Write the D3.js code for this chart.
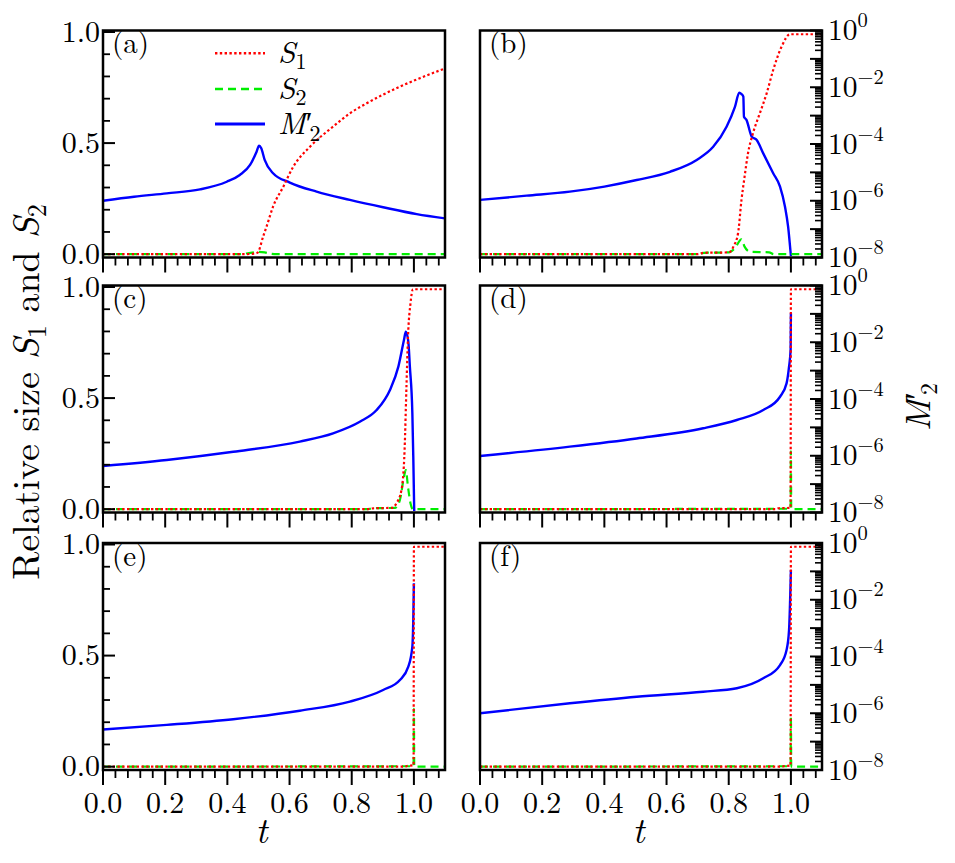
<!DOCTYPE html>
<html><head><meta charset="utf-8">
<script src="https://cdn.jsdelivr.net/npm/d3@7"></script>
<style>
body{margin:0;background:#fff}
svg{display:block}
</style>
</head><body>
<svg id="chart" width="955" height="863"></svg>
<script>
// ---------- axis ticks / labels ----------
const xMajorTicks = [0, 0.2, 0.4, 0.6, 0.8, 1.0];
const xTickLabels = ["0.0", "0.2", "0.4", "0.6", "0.8", "1.0"];
const yMajorTicks = [0, 0.5, 1.0];
const yTickLabels = ["0.0", "0.5", "1.0"];
const logLabelExps = [0, -2, -4, -6, -8];
const panelLabels = ["(a)", "(b)", "(c)", "(d)", "(e)", "(f)"];

// ---------- panel (a) ----------
const tS1_a = [0, 0.45, 0.49, 0.498, 0.515, 0.526, 0.547, 0.58, 0.612, 0.666, 0.74, 0.794, 0.848, 0.955, 1.019, 1.1];
const S1_a  = [0, 0, 0.003, 0.008, 0.079, 0.124, 0.214, 0.304, 0.394, 0.484, 0.574, 0.634, 0.679, 0.754, 0.792, 0.836];
const tS2_a = [0, 0.44, 0.47, 0.5, 0.52, 0.54, 0.56, 1.1];
const S2_a  = [0, 0, 0.005, 0.01, 0.008, 0.002, 0, 0];
const tM_a  = [0, 0.1, 0.205, 0.312, 0.398, 0.44, 0.473, 0.494, 0.502, 0.509, 0.52, 0.547, 0.601, 0.687, 0.794, 0.901, 1.009, 1.1];
const M_a   = [1.0e-6, 1.38e-6, 1.82e-6, 2.51e-6, 4.68e-6, 8.13e-6, 1.82e-5, 5.37e-5, 8.71e-5, 7.08e-5, 2.75e-5, 9.33e-6, 4.37e-6, 2.09e-6, 1.07e-6, 5.89e-7, 3.39e-7, 2.40e-7];

// ---------- panel (b) ----------
const tS1_b = [0, 0.7, 0.72, 0.8, 0.81, 0.815, 0.83, 0.841, 0.851, 0.862, 0.878, 0.9, 0.922, 0.943, 0.97, 0.997, 1.1];
const S1_b  = [0, 0, 0.006, 0.008, 0.02, 0.034, 0.094, 0.244, 0.349, 0.454, 0.544, 0.634, 0.724, 0.829, 0.934, 0.99, 0.99];
const tS2_b = [0, 0.7, 0.72, 0.8, 0.82, 0.841, 0.851, 0.868, 0.93, 0.945, 1.1];
const S2_b  = [0, 0, 0.006, 0.008, 0.027, 0.067, 0.034, 0.011, 0.008, 0, 0];
const tM_b  = [0, 0.15, 0.289, 0.4, 0.504, 0.611, 0.697, 0.75, 0.793, 0.82, 0.834, 0.841, 0.847, 0.849, 0.857, 0.874, 0.89, 0.911, 0.943, 0.965, 0.981, 0.991, 1.0];
const M_b   = [1.07e-6, 1.51e-6, 2.09e-6, 3.16e-6, 5.37e-6, 1.05e-5, 2.75e-5, 7.94e-5, 4.07e-4, 2.04e-3, 6.46e-3, 5.75e-3, 4.68e-3, 9.12e-4, 7.08e-4, 1.82e-4, 1.38e-4, 4.68e-5, 9.33e-6, 3.16e-6, 6.17e-7, 1.23e-7, 1.12e-8];

// ---------- panel (c) ----------
const tS1_c = [0, 0.85, 0.87, 0.93, 0.944, 0.96, 0.97, 0.976, 0.981, 0.989, 0.997, 1.1];
const S1_c  = [0, 0, 0.004, 0.006, 0.027, 0.086, 0.266, 0.551, 0.776, 0.926, 0.99, 0.99];
const tS2_c = [0, 0.85, 0.87, 0.94, 0.955, 0.968, 0.974, 0.981, 0.989, 0.997, 1.1];
const S2_c  = [0, 0, 0.004, 0.006, 0.041, 0.146, 0.176, 0.10, 0.027, 0, 0];
const tM_c  = [0, 0.205, 0.419, 0.633, 0.74, 0.826, 0.88, 0.923, 0.95, 0.968, 0.974, 0.982, 0.987, 0.995, 0.998, 1.001];
const M_c   = [4.37e-7, 7.08e-7, 1.38e-6, 3.16e-6, 6.17e-6, 1.58e-5, 4.07e-5, 2.09e-4, 1.38e-3, 1.20e-2, 2.34e-2, 1.05e-2, 1.38e-3, 3.16e-5, 9.33e-7, 1.12e-8];

// ---------- panel (d) ----------
const tS1_d = [0, 0.95, 0.96, 0.999, 1.0, 1.1];
const S1_d  = [0, 0, 0.004, 0.006, 0.99, 0.99];
const tS2_d = [0, 0.999, 1.0, 1.001, 1.1];
const S2_d  = [0, 0.002, 0.26, 0, 0];
const tM_d  = [0, 0.289, 0.504, 0.718, 0.826, 0.911, 0.965, 0.986, 0.994, 0.999, 1.0];
const M_d   = [9.77e-7, 2.09e-6, 4.07e-6, 9.33e-6, 1.82e-5, 4.07e-5, 1.20e-4, 3.55e-4, 1.38e-3, 5.37e-3, 1.05e-1];

// ---------- panel (e) ----------
const tS1_e = [0, 0.97, 0.98, 0.999, 1.0, 1.1];
const S1_e  = [0, 0, 0.004, 0.006, 0.99, 0.99];
const tS2_e = [0, 0.999, 1.0, 1.001, 1.1];
const S2_e  = [0, 0.002, 0.26, 0, 0];
const tM_e  = [0, 0.205, 0.419, 0.633, 0.794, 0.901, 0.955, 0.982, 0.995, 0.998, 1.0];
const M_e   = [2.69e-7, 3.89e-7, 6.17e-7, 1.23e-6, 2.57e-6, 6.61e-6, 1.48e-5, 4.37e-5, 2.24e-4, 1.95e-3, 3.80e-2];

// ---------- panel (f) ----------
const tS1_f = [0, 0.97, 0.98, 0.999, 1.0, 1.1];
const S1_f  = [0, 0, 0.003, 0.005, 0.99, 0.99];
const tS2_f = [0, 0.999, 1.0, 1.001, 1.1];
const S2_f  = [0, 0.002, 0.225, 0, 0];
const tM_f  = [0, 0.289, 0.504, 0.718, 0.826, 0.911, 0.965, 0.986, 0.994, 1.0];
const M_f   = [1.0e-6, 2.24e-6, 3.80e-6, 5.75e-6, 7.59e-6, 1.70e-5, 5.01e-5, 1.70e-4, 8.51e-4, 1.12e-1];

// ---------- layout ----------
const FONT = "'Latin Modern Roman', 'Liberation Serif', serif";
const svg = d3.select("#chart");
const colX = [103, 480];
const rowY = [30.5, 285.5, 543];
const W = 342, H = 227;

const zip = (ts, vs) => ts.map((t, i) => [t, vs[i]]);
const panels = [
  {S1: zip(tS1_a, S1_a), S2: zip(tS2_a, S2_a), M: zip(tM_a, M_a)},
  {S1: zip(tS1_b, S1_b), S2: zip(tS2_b, S2_b), M: zip(tM_b, M_b)},
  {S1: zip(tS1_c, S1_c), S2: zip(tS2_c, S2_c), M: zip(tM_c, M_c)},
  {S1: zip(tS1_d, S1_d), S2: zip(tS2_d, S2_d), M: zip(tM_d, M_d)},
  {S1: zip(tS1_e, S1_e), S2: zip(tS2_e, S2_e), M: zip(tM_e, M_e)},
  {S1: zip(tS1_f, S1_f), S2: zip(tS2_f, S2_f), M: zip(tM_f, M_f)}
];

const x = d3.scaleLinear().domain([0, 1.1]).range([0, W]);
const yLin = d3.scaleLinear().domain([-0.015, 1.0068]).range([H, 0]);
const yLog = d3.scaleLog().domain([1e-8, 1]).range([H, 0]);

const styles = {
  S1: {color: "#ff0000", dash: "2.4,2.4", width: 2.2},
  S2: {color: "#00ee00", dash: "8,5", width: 2.2},
  M:  {color: "#0000ff", dash: null, width: 2.4}
};

const txt = (sel) => sel.append("text").attr("font-family", FONT).attr("fill", "#000");

const xMinor = d3.range(0, 1.1001, 0.04).filter(v => !xMajorTicks.some(m => Math.abs(m - v) < 1e-6));
const yMinor = d3.range(0, 1.0001, 0.1).filter(v => !yMajorTicks.some(m => Math.abs(m - v) < 1e-6));
const logMajor = d3.range(-8, 1).map(e => Math.pow(10, e));
const logMinor = [];
for (let e = -8; e < 0; e++) for (let k = 2; k <= 9; k++) logMinor.push(k * Math.pow(10, e));

panels.forEach((p, i) => {
  const col = i % 2, row = Math.floor(i / 2);
  const g = svg.append("g").attr("transform", `translate(${colX[col]},${rowY[row]})`);
  const cid = "clip" + i;
  g.append("clipPath").attr("id", cid).append("rect").attr("width", W).attr("height", H);
  const plot = g.append("g").attr("clip-path", `url(#${cid})`);

  const lineLin = d3.line().x(d => x(d[0])).y(d => yLin(d[1])).curve(d3.curveMonotoneX);
  const lineLog = d3.line().x(d => x(d[0])).y(d => yLog(d[1])).curve(d3.curveMonotoneX);

  plot.append("path").datum(p.M).attr("d", lineLog)
    .attr("fill", "none").attr("stroke", styles.M.color).attr("stroke-width", styles.M.width)
    .attr("stroke-linejoin", "round");
  plot.append("path").datum(p.S2).attr("d", lineLin)
    .attr("fill", "none").attr("stroke", styles.S2.color).attr("stroke-width", styles.S2.width)
    .attr("stroke-dasharray", styles.S2.dash);
  plot.append("path").datum(p.S1).attr("d", lineLin)
    .attr("fill", "none").attr("stroke", styles.S1.color).attr("stroke-width", styles.S1.width)
    .attr("stroke-dasharray", styles.S1.dash);

  // bottom axis: outward ticks
  const xa = g.append("g").attr("transform", `translate(0,${H})`);
  xa.selectAll("line.maj").data(xMajorTicks).join("line")
    .attr("x1", d => x(d)).attr("x2", d => x(d)).attr("y1", 0).attr("y2", 15)
    .attr("stroke", "#000").attr("stroke-width", 2);
  xa.selectAll("line.min").data(xMinor).join("line")
    .attr("x1", d => x(d)).attr("x2", d => x(d)).attr("y1", 0).attr("y2", 8)
    .attr("stroke", "#000").attr("stroke-width", 1.8);
  if (row === 2) {
    xMajorTicks.forEach((d, j) => {
      txt(xa).attr("x", x(d)).attr("y", 43).attr("text-anchor", "middle")
        .attr("font-size", 30).text(xTickLabels[j]);
    });
    txt(g).attr("x", x(0.51)).attr("y", H + 73).attr("text-anchor", "middle")
      .attr("font-size", 36).attr("font-style", "italic").text("t");
  }

  if (col === 0) {
    g.selectAll("line.ymaj").data(yMajorTicks).join("line")
      .attr("x1", 0).attr("x2", 12).attr("y1", d => yLin(d)).attr("y2", d => yLin(d))
      .attr("stroke", "#000").attr("stroke-width", 2);
    g.selectAll("line.ymin").data(yMinor).join("line")
      .attr("x1", 0).attr("x2", 7).attr("y1", d => yLin(d)).attr("y2", d => yLin(d))
      .attr("stroke", "#000").attr("stroke-width", 1.8);
    yMajorTicks.forEach((d, j) => {
      txt(g).attr("x", -3).attr("y", yLin(d) + 9.7).attr("text-anchor", "end")
        .attr("font-size", 30).text(yTickLabels[j]);
    });
  } else {
    g.selectAll("line.lmaj").data(logMajor).join("line")
      .attr("x1", W - 12).attr("x2", W).attr("y1", d => yLog(d)).attr("y2", d => yLog(d))
      .attr("stroke", "#000").attr("stroke-width", 2);
    g.selectAll("line.lmin").data(logMinor).join("line")
      .attr("x1", W - 7).attr("x2", W).attr("y1", d => yLog(d)).attr("y2", d => yLog(d))
      .attr("stroke", "#000").attr("stroke-width", 1.6);
    logLabelExps.forEach(e => {
      const t = txt(g).attr("x", W + 6).attr("y", yLog(Math.pow(10, e)) + 9.5)
        .attr("font-size", 29.5);
      t.append("tspan").text("10");
      t.append("tspan").attr("dy", -13).attr("font-size", 20.5)
        .text(e === 0 ? "0" : "\u2212" + Math.abs(e));
    });
  }

  g.append("rect").attr("width", W).attr("height", H)
    .attr("fill", "none").attr("stroke", "#000").attr("stroke-width", 2.5);

  txt(g).attr("x", 9).attr("y", 22.5).attr("font-size", 29).text(panelLabels[i]);

  if (i === 0) {
    const legY = [22.8, 58.5, 93.5];
    const keys = ["S1", "S2", "M"];
    keys.forEach((k, j) => {
      const st = styles[k];
      g.append("line").attr("x1", 112).attr("x2", 162).attr("y1", legY[j]).attr("y2", legY[j])
        .attr("stroke", st.color).attr("stroke-width", k === "M" ? 3 : 2.6)
        .attr("stroke-dasharray", st.dash);
      const tx = txt(g).attr("x", 175).attr("y", legY[j] + 10).attr("font-size", 31);
      if (k === "M") {
        tx.append("tspan").attr("font-style", "italic").text("M");
        tx.append("tspan").text("\u2032");
        tx.append("tspan").attr("dx", -3).attr("dy", 7).attr("font-size", 22).text("2");
      } else {
        tx.append("tspan").attr("font-style", "italic").text("S");
        tx.append("tspan").attr("dy", 6).attr("font-size", 22).text(k === "S1" ? "1" : "2");
      }
    });
  }
});

// left axis title
const yt = txt(svg).attr("transform", "translate(39,392) rotate(-90)")
  .attr("text-anchor", "middle").attr("font-size", 38);
yt.append("tspan").text("Relative size ");
yt.append("tspan").attr("font-style", "italic").text("S");
yt.append("tspan").attr("dy", 7).attr("font-size", 26).text("1");
yt.append("tspan").attr("dy", -7).text(" and ");
yt.append("tspan").attr("font-style", "italic").text("S");
yt.append("tspan").attr("dy", 7).attr("font-size", 26).text("2");

// right axis title
const rt = txt(svg).attr("transform", "translate(930,407) rotate(-90)")
  .attr("text-anchor", "middle").attr("font-size", 35);
rt.append("tspan").attr("font-style", "italic").text("M");
rt.append("tspan").text("\u2032");
rt.append("tspan").attr("dx", -3).attr("dy", 7).attr("font-size", 24).text("2");
</script>
</body></html>
